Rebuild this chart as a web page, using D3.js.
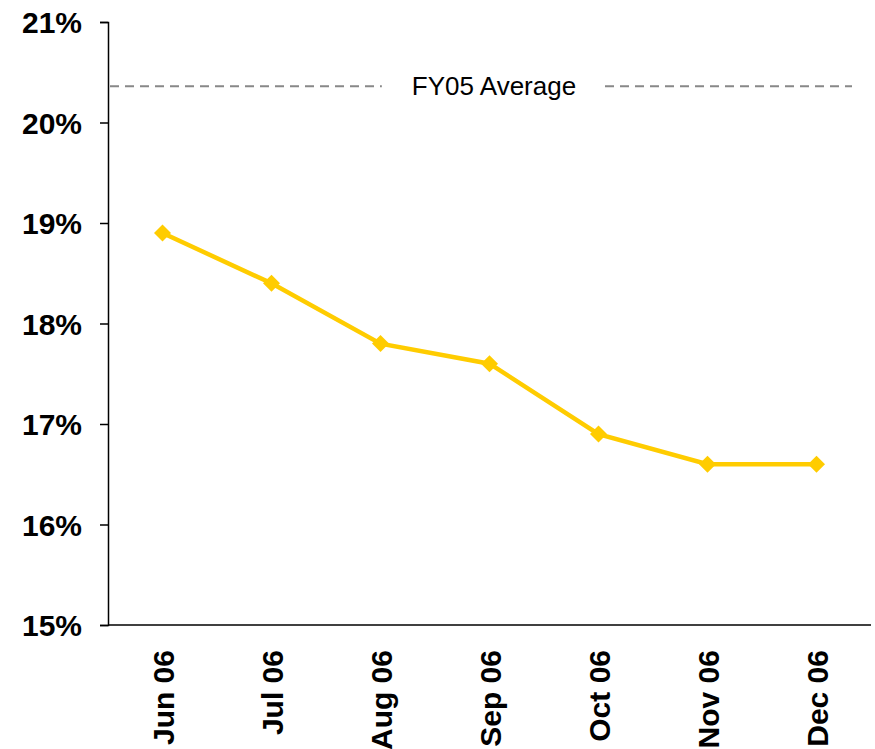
<!DOCTYPE html>
<html>
<head>
<meta charset="utf-8">
<script src="https://cdn.jsdelivr.net/npm/d3@7"></script>
<style>
  body { margin: 0; background: #fff; }
  text { font-family: "Liberation Sans", Arial, sans-serif; }
</style>
</head>
<body>
<div id="chart"></div>
<script>
const months = ["Jun 06", "Jul 06", "Aug 06", "Sep 06", "Oct 06", "Nov 06", "Dec 06"];
const values = [18.9, 18.4, 17.8, 17.6, 16.9, 16.6, 16.6];
const yTicks = [15, 16, 17, 18, 19, 20, 21];
const avgLabel = "FY05 Average";
const avgValue = 20.36;

const w = 875, h = 749;
const plotLeft = 108, plotRight = 871, plotTop = 22, plotBottom = 625;

const svg = d3.select("#chart").append("svg")
  .attr("width", w)
  .attr("height", h);

const x = d3.scalePoint()
  .domain(months)
  .range([plotLeft, plotRight])
  .padding(0.5);

const y = d3.scaleLinear()
  .domain([15, 21])
  .range([plotBottom, plotTop]);

// y axis
const yAxis = d3.axisLeft(y)
  .tickValues(yTicks)
  .tickFormat(d => d + "%")
  .tickSize(8)
  .tickPadding(18);

svg.append("g")
  .attr("transform", "translate(" + plotLeft + ",0)")
  .call(yAxis)
  .call(g => g.select(".domain").attr("stroke", "#000").attr("stroke-width", 1.5))
  .call(g => g.selectAll(".tick line").attr("stroke", "#000").attr("stroke-width", 1.5))
  .call(g => g.selectAll(".tick text")
    .attr("fill", "#000")
    .style("font-size", "30px")
    .style("font-weight", "bold")
    .attr("dy", "0.35em"));

// x axis
const xAxis = d3.axisBottom(x).tickSize(0).tickPadding(0);
svg.append("g")
  .attr("transform", "translate(0," + plotBottom + ")")
  .call(xAxis)
  .call(g => g.select(".domain").attr("stroke", "#000").attr("stroke-width", 1.5)
    .attr("d", "M" + plotLeft + ",0H" + plotRight))
  .call(g => g.selectAll(".tick text")
    .attr("fill", "#000")
    .style("font-size", "30px")
    .style("font-weight", "bold")
    .attr("text-anchor", "end")
    .attr("transform", "rotate(-90)")
    .attr("x", -25)
    .attr("y", 0)
    .attr("dy", "0.35em"));

// average line
svg.append("line")
  .attr("x1", plotLeft + 2)
  .attr("x2", 852)
  .attr("y1", y(avgValue))
  .attr("y2", y(avgValue))
  .attr("stroke", "#888")
  .attr("stroke-width", 2)
  .attr("stroke-dasharray", "9,6");

const avgBg = svg.append("rect").attr("fill", "#fff");
const avgText = svg.append("text")
  .attr("x", 494)
  .attr("y", y(avgValue))
  .attr("dy", "0.35em")
  .attr("text-anchor", "middle")
  .style("font-size", "26px")
  .attr("fill", "#000")
  .text(avgLabel);

const bb = avgText.node().getBBox();
avgBg
  .attr("x", bb.x - 30)
  .attr("y", bb.y)
  .attr("width", bb.width + 58)
  .attr("height", bb.height);

// series line
const line = d3.line()
  .x((d, i) => x(months[i]))
  .y(d => y(d));

svg.append("path")
  .datum(values)
  .attr("fill", "none")
  .attr("stroke", "#FFCC00")
  .attr("stroke-width", 4.5)
  .attr("d", line);

svg.selectAll(".marker")
  .data(values)
  .enter()
  .append("path")
  .attr("class", "marker")
  .attr("d", d3.symbol().type(d3.symbolSquare).size(144))
  .attr("transform", (d, i) => "translate(" + x(months[i]) + "," + y(d) + ") rotate(45)")
  .attr("fill", "#FFCC00");
</script>
</body>
</html>
